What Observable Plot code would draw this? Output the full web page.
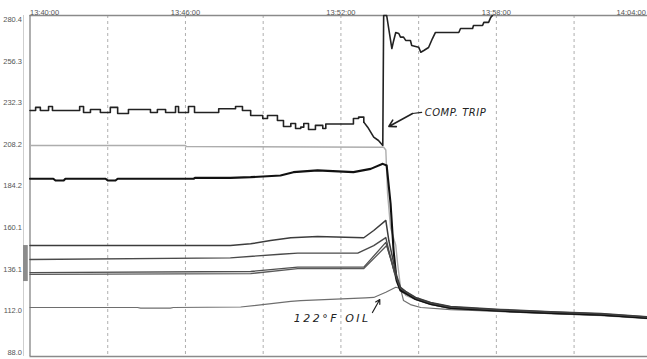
<!DOCTYPE html>
<html>
<head>
<meta charset="utf-8">
<script src="https://cdn.jsdelivr.net/npm/d3@7"></script>
<script src="https://cdn.jsdelivr.net/npm/@observablehq/plot@0.6"></script>
<style>
  html, body { margin: 0; padding: 0; background: #fff; }
  #chart svg { display: block; }
</style>
</head>
<body>
<div id="chart"></div>
<script>
// ---- axis settings / tick labels ----
const xDomain = ["13:40:00", "14:03:50"];
const yDomain = [85.7, 282.7];
const xTickLabels = ["13:40:00", "13:46:00", "13:52:00", "13:58:00", "14:04:00"];
const xGridTimes = ["13:43:00", "13:46:00", "13:49:00", "13:52:00", "13:55:00", "13:58:00", "14:01:00"];
const yTickValues = [88.0, 112.0, 136.1, 160.1, 184.2, 208.2, 232.3, 256.3, 280.4];

// ---- series (time, value) ----
const dischargeStepped = [
  ["13:40:00",227.8],["13:40:13",229.6],["13:40:24",227.8],["13:40:43",230.1],["13:40:52",227.8],
  ["13:41:55",230.1],["13:42:04",226.7],["13:42:20",228.4],["13:42:43",226.7],["13:43:06",229.6],
  ["13:43:23",226.1],["13:43:48",228.4],["13:44:39",226.7],["13:44:55",228.4],["13:45:14",226.7],
  ["13:45:37",230.1],["13:45:44",226.7],["13:46:07",230.1],["13:46:21",226.7],["13:47:17",228.8],
  ["13:47:56",230.1],["13:48:12",227.8],["13:48:31",224.9],["13:48:59",223.2],["13:49:10",224.9],
  ["13:49:33",222.0],["13:49:47",218.6],["13:50:04",220.3],["13:50:15",217.4],["13:50:27",218.2],
  ["13:50:34",220.3],["13:50:45",216.8],["13:51:01",219.2],["13:51:18",217.4],["13:51:25",220.0],
  ["13:52:29",223.2],["13:52:41",224.0],["13:52:53",221.1]
];
const dischargeTrip = [
  ["13:52:53",221.1],["13:53:02",218.2],["13:53:09",215.3],["13:53:16",212.4],["13:53:27",210.5],
  ["13:53:37",207.6],["13:53:39",282.7],["13:53:46",282.7],["13:53:58",263.6],["13:54:02",268.0],
  ["13:54:07",272.9],["13:54:14",272.3],["13:54:18",270.2],["13:54:25",270.2],["13:54:30",268.3],
  ["13:54:41",268.3],["13:54:44",265.4],["13:55:00",264.4],["13:55:05",261.5],["13:55:12",262.5],
  ["13:55:23",264.2],["13:55:28",267.1],["13:55:32",269.4],["13:55:39",272.9],["13:56:33",272.9],
  ["13:56:37",275.2],["13:57:05",275.2],["13:57:07",276.9],["13:57:28",276.9],["13:57:31",278.7],
  ["13:57:42",278.7],["13:57:47",281.6],["13:57:51",282.7]
];
const lightLine = [
  ["13:40:00",207.6],["13:46:00",207.6],["13:46:02",207.0],["13:53:39",206.6],["13:53:44",205.0],
  ["13:53:48",180.0],["13:53:55",160.0],["13:54:07",150.0],["13:54:11",140.0],["13:54:18",126.0],
  ["13:54:30",121.0],["13:54:53",118.6],["13:55:28",115.7],["13:56:14",113.4],["13:58:10",111.7],
  ["14:00:06",110.5],["14:02:02",109.4],["14:03:50",107.6]
];
const mainLine = [
  ["13:40:00",188.4],["13:40:54",188.4],["13:40:59",187.4],["13:41:18",187.4],["13:41:22",188.4],
  ["13:42:55",188.4],["13:43:00",187.4],["13:43:18",187.4],["13:43:23",188.4],["13:46:19",188.4],
  ["13:46:23",189.0],["13:47:44",188.9],["13:48:31",189.3],["13:49:40",190.3],["13:50:10",192.2],
  ["13:51:06",193.2],["13:52:29",192.2],["13:53:09",194.1],["13:53:37",197.0],["13:53:46",196.0],
  ["13:53:55",174.1],["13:54:02",146.9],["13:54:09",129.6],["13:54:18",123.8],["13:54:30",122.3],
  ["13:54:53",118.9],["13:55:28",116.0],["13:56:14",113.8],["13:58:10",112.1],["14:00:06",110.9],
  ["14:02:02",109.8],["14:03:50",108.0]
];
const lineA = [
  ["13:40:00",149.8],["13:47:44",149.8],["13:48:31",150.8],["13:49:17",152.7],["13:50:04",154.3],
  ["13:51:06",155.0],["13:52:53",154.3],["13:53:16",158.5],["13:53:44",164.3],["13:53:51",152.7],
  ["13:54:02",140.0],["13:54:09",132.5],["13:54:18",125.6],["13:54:30",123.3],["13:54:53",119.8],
  ["13:55:28",116.9],["13:56:14",114.6],["13:58:10",112.9],["14:00:06",111.6],["14:02:02",110.5],
  ["14:03:50",108.7]
];
const lineB = [
  ["13:40:00",141.7],["13:47:44",142.7],["13:49:40",144.8],["13:50:20",145.4],["13:52:39",145.4],
  ["13:53:16",149.8],["13:53:44",154.4],["13:53:51",146.9],["13:54:02",136.5],["13:54:11",129.6],
  ["13:54:18",125.0],["13:54:30",123.0],["13:54:53",119.5],["13:55:28",116.6],["13:56:14",114.3],
  ["13:58:10",112.6],["14:00:06",111.4],["14:02:02",110.3],["14:03:50",108.5]
];
const lineC = [
  ["13:40:00",134.2],["13:48:31",134.8],["13:50:20",137.3],["13:52:53",137.3],["13:53:44",151.6],
  ["13:53:55",142.3],["13:54:04",134.2],["13:54:14",127.3],["13:54:23",122.7],["13:54:53",119.0],
  ["13:55:28",116.1],["13:56:14",113.8],["13:58:10",112.1],["14:00:06",110.9],["14:02:02",109.8],
  ["14:03:50",108.0]
];
const lineD = [
  ["13:40:00",133.1],["13:48:31",133.6],["13:50:20",136.5],["13:52:53",136.5],["13:53:46",149.8],
  ["13:53:58",140.0],["13:54:07",131.0],["13:54:18",125.0],["13:54:30",122.0],["13:54:53",118.7],
  ["13:55:28",115.8],["13:56:14",113.5],["13:58:10",111.9],["14:00:06",110.7],["14:02:02",109.6],
  ["14:03:50",107.9]
];
const oilLine = [
  ["13:40:00",114.0],["13:44:09",114.0],["13:44:16",113.6],["13:45:25",113.6],["13:45:32",114.0],
  ["13:48:08",114.3],["13:50:04",117.5],["13:50:27",118.0],["13:52:57",119.6],["13:53:16",119.8],
  ["13:53:44",122.8],["13:54:07",125.7],["13:54:18",125.0],["13:54:25",118.0],["13:54:41",115.7],
  ["13:55:05",114.0],["13:56:14",112.8],["13:58:10",111.7],["14:00:06",110.5],["14:02:02",109.4],
  ["14:03:50",108.0]
];

// ---- handwritten annotations ----
const tripNote = {label: "COMP. TRIP", time: "13:55:14", value: 226.7};
const tripTail = [["13:55:07",226.7],["13:54:46",226.1]];
const tripArrow = {from: ["13:54:46",226.1], to: ["13:53:51",218.6]};
const oilNote = {label: "122°F OIL", time: "13:53:09", value: 107.6};
const oilArrow = {from: ["13:53:13",111.1], to: ["13:53:30",118.6]};

// scroll thumb on the left value strip
const scrollThumb = {from: "13:39:45", to: "13:39:56", low: 129.0, high: 149.8};
const scrollTrack = ["13:39:45"];

const parse = d3.timeParse("%H:%M:%S");
const X = d => parse(d[0]);
const Y = d => d[1];

const lineMark = (data, stroke, w, curve = "linear") =>
  Plot.line(data, {x: X, y: Y, stroke, strokeWidth: w, curve, strokeLinejoin: "round"});

const tickFont = "'Liberation Sans', Arial, sans-serif";
const handFont = "'DejaVu Sans', sans-serif";

const chart = Plot.plot({
  width: 647,
  height: 359,
  marginLeft: 29.5,
  marginRight: 0,
  marginTop: 15,
  marginBottom: 3,
  style: {background: "#fff", fontFamily: tickFont, overflow: "visible"},
  x: {type: "time", domain: xDomain.map(parse), axis: null},
  y: {domain: yDomain, axis: null},
  marks: [
    // grid
    Plot.ruleX(xGridTimes, {x: d => parse(d), stroke: "#9a9a9a", strokeWidth: 0.8, strokeDasharray: "3,3"}),
    // frame (top, bottom, left axis, scroll strip)
    Plot.ruleY([yDomain[1]], {stroke: "#8a8a8a", strokeWidth: 1.6}),
    Plot.ruleY([yDomain[0]], {stroke: "#8a8a8a", strokeWidth: 1.4}),
    Plot.ruleX(scrollTrack, {x: d => parse(d), y1: yDomain[0], y2: yDomain[1], stroke: "#cfcfcf", strokeWidth: 1}),
    Plot.rect([scrollThumb], {x1: d => parse(d.from), x2: d => parse(d.to), y1: "low", y2: "high", fill: "#8c8c8c"}),
    Plot.ruleX([xDomain[0]], {x: d => parse(d), stroke: "#7a7a7a", strokeWidth: 1.2}),
    // tick labels
    Plot.text(yTickValues, {y: d => d, text: d => d.toFixed(1), frameAnchor: "left", textAnchor: "end", dx: -8, fontSize: 7.5, fill: "#555"}),
    Plot.text(xTickLabels.slice(0, 1), {x: d => parse(d), text: d => d, frameAnchor: "top", dy: -6, textAnchor: "start", fontSize: 7.5, fill: "#555"}),
    Plot.text(xTickLabels.slice(1, -1), {x: d => parse(d), text: d => d, frameAnchor: "top", dy: -6, textAnchor: "middle", fontSize: 7.5, fill: "#555"}),
    Plot.text(xTickLabels.slice(-1), {x: d => parse(d), text: d => d, frameAnchor: "top", dy: -6, textAnchor: "end", dx: -6, fontSize: 7.5, fill: "#555"}),
    // series
    lineMark(lightLine, "#adadad", 1.4),
    lineMark(oilLine, "#6e6e6e", 1.2),
    lineMark(lineD, "#5a5a5a", 1.3),
    lineMark(lineC, "#505050", 1.3),
    lineMark(mainLine, "#111", 2.1),
    lineMark(lineB, "#4a4a4a", 1.4),
    lineMark(lineA, "#3c3c3c", 1.5),
    lineMark(dischargeStepped, "#222", 1.6, "step-after"),
    lineMark(dischargeTrip, "#222", 1.6),
    // annotations
    Plot.line(tripTail, {x: X, y: Y, stroke: "#222", strokeWidth: 1.2}),
    Plot.arrow([tripArrow], {x1: d => parse(d.from[0]), y1: d => d.from[1], x2: d => parse(d.to[0]), y2: d => d.to[1], stroke: "#222", strokeWidth: 1.6, headLength: 7}),
    Plot.text([tripNote], {x: d => parse(d.time), y: "value", text: "label", textAnchor: "start", fontSize: 10, fontStyle: "italic", fontFamily: handFont, fill: "#222"}),
    Plot.arrow([oilArrow], {x1: d => parse(d.from[0]), y1: d => d.from[1], x2: d => parse(d.to[0]), y2: d => d.to[1], stroke: "#222", strokeWidth: 1.2, headLength: 6}),
    Plot.text([oilNote], {x: d => parse(d.time), y: "value", text: "label", textAnchor: "end", fontSize: 11, fontStyle: "italic", fontFamily: handFont, fill: "#222"})
  ]
});

d3.select(chart).selectAll("text")
  .filter(function() { return this.textContent === oilNote.label; })
  .attr("letter-spacing", "2.5px");
d3.select(chart).selectAll("text")
  .filter(function() { return this.textContent === tripNote.label; })
  .attr("letter-spacing", "0.5px");

document.getElementById("chart").appendChild(chart);
</script>
</body>
</html>
